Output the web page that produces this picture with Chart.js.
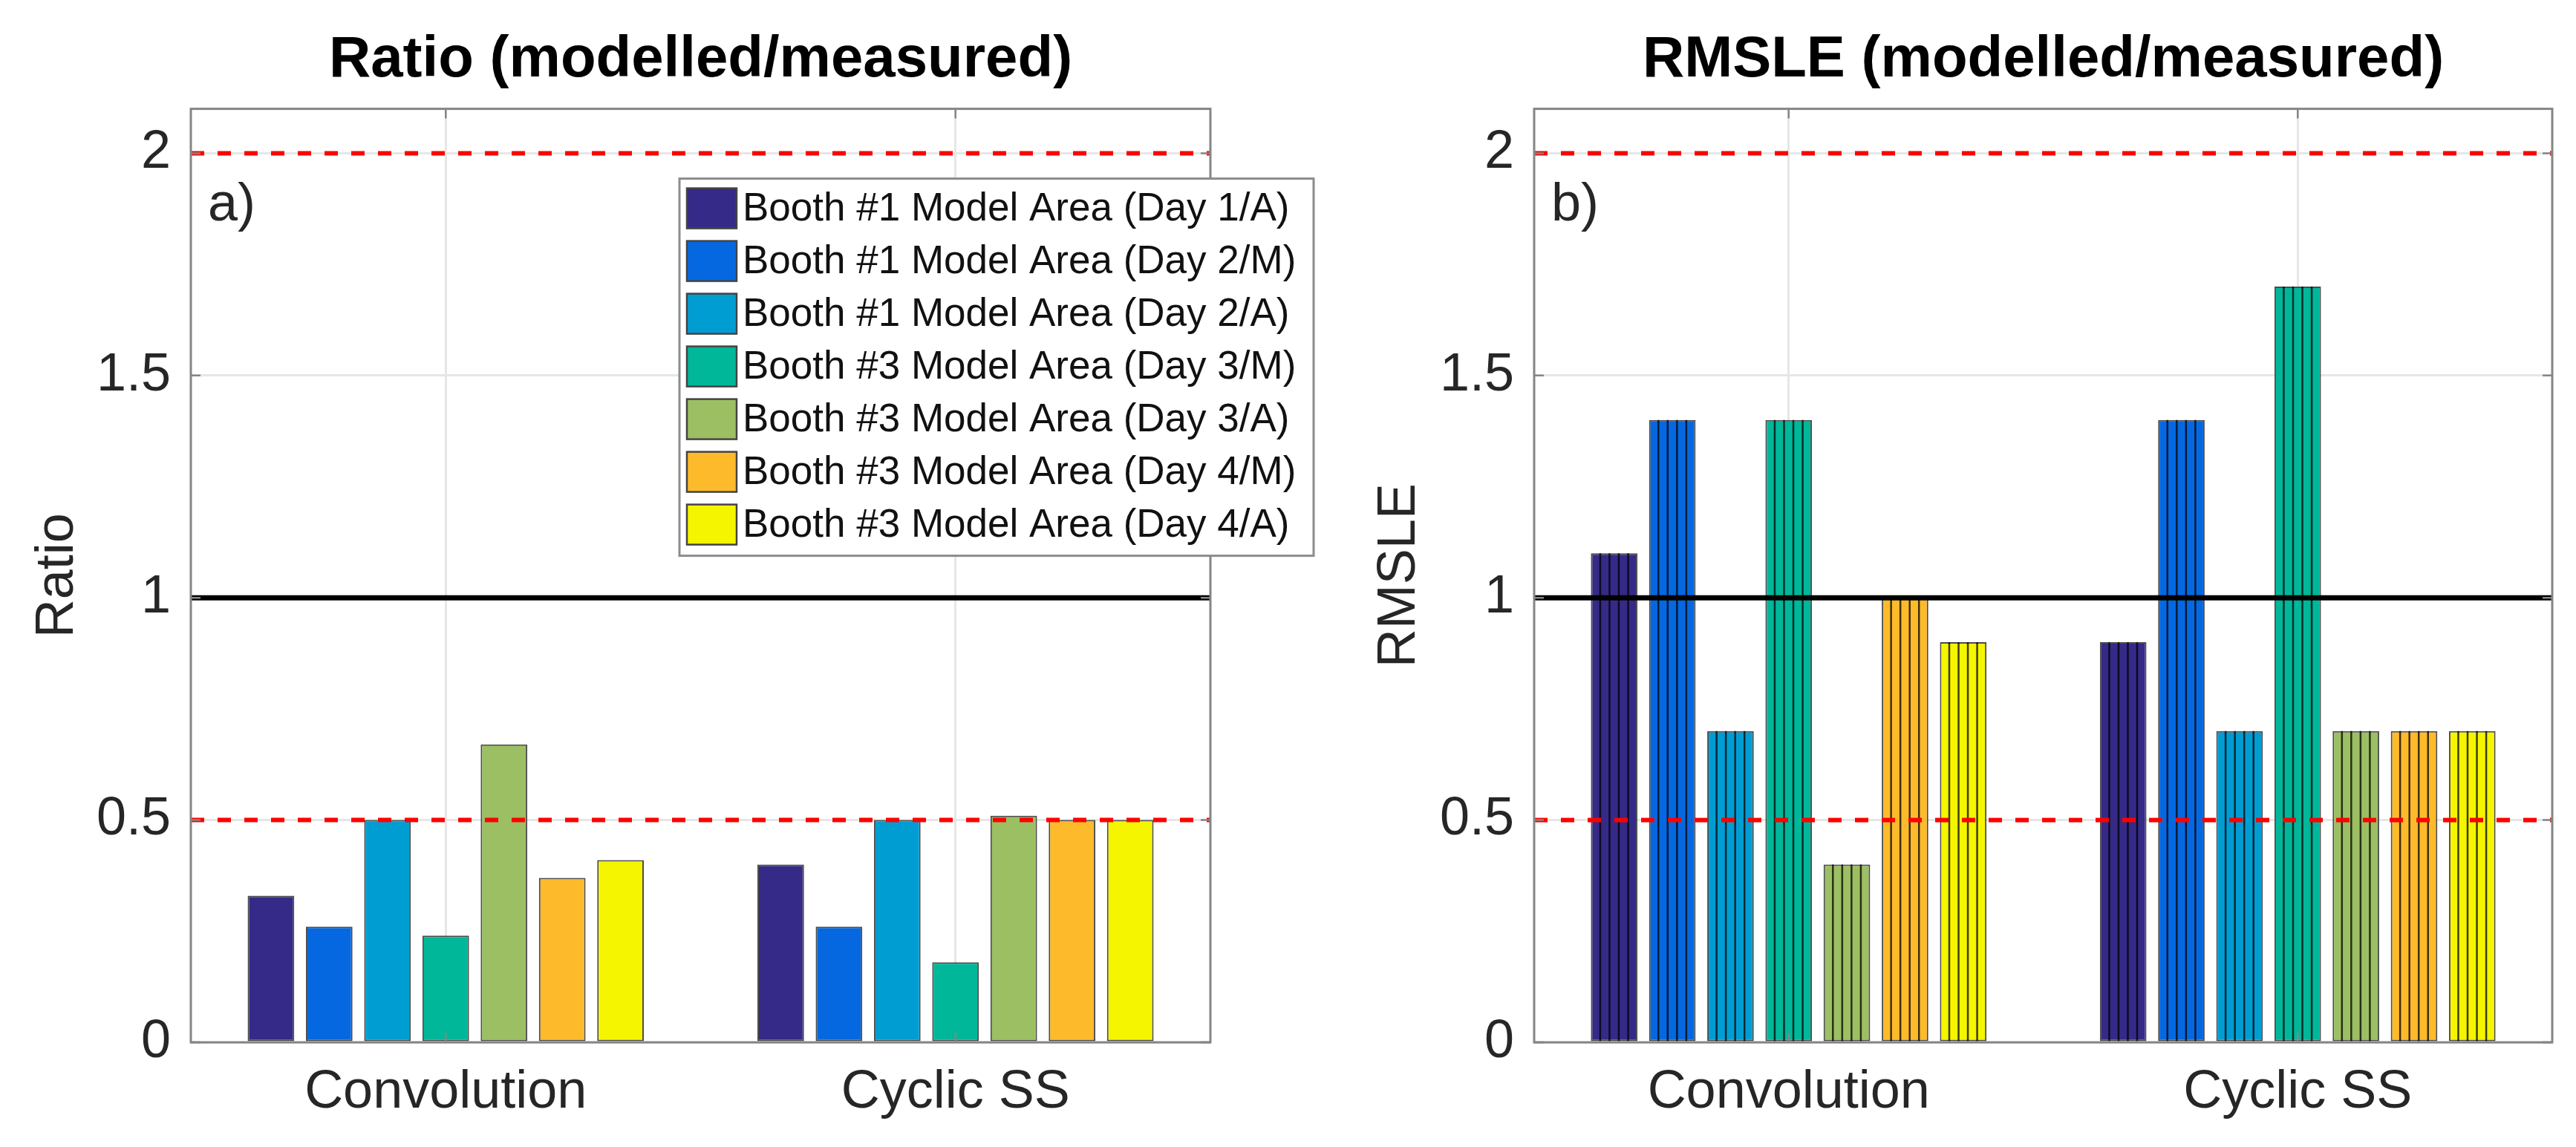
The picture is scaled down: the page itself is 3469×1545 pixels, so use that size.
<!DOCTYPE html>
<html>
<head>
<meta charset="utf-8">
<script src="https://cdn.jsdelivr.net/npm/chart.js@4.4.1/dist/chart.umd.min.js"></script>
<style>
	html, body { margin: 0; padding: 0; background: #fff; }
	body { width: 3469px; height: 1545px; position: relative; overflow: hidden; }
	canvas { position: absolute; top: 0; }
	#ratioChart { left: 0; }
	#rmsleChart { left: 1800px; }
</style>
</head>
<body>
<canvas id="ratioChart" width="1800" height="1545"></canvas>
<canvas id="rmsleChart" width="1669" height="1545"></canvas>
<script>
(() => {
	'use strict'

	// Data
	const categories = ['Convolution', 'Cyclic SS'];
	const seriesNames = [
		'Booth #1 Model Area (Day 1/A)',
		'Booth #1 Model Area (Day 2/M)',
		'Booth #1 Model Area (Day 2/A)',
		'Booth #3 Model Area (Day 3/M)',
		'Booth #3 Model Area (Day 3/A)',
		'Booth #3 Model Area (Day 4/M)',
		'Booth #3 Model Area (Day 4/A)'
	];
	const yTicks = [0, 0.5, 1, 1.5, 2];
	const ratioConvolution = [0.33, 0.26, 0.50, 0.24, 0.67, 0.37, 0.41];
	const ratioCyclic = [0.40, 0.26, 0.50, 0.18, 0.51, 0.50, 0.50];
	const rmsleConvolution = [1.1, 1.4, 0.7, 1.4, 0.4, 1.0, 0.9];
	const rmsleCyclic = [0.9, 1.4, 0.7, 1.7, 0.7, 0.7, 0.7];
	const refDashed = [0.5, 2];
	const refSolid = [1];

	const colors = ['#352a87', '#0568e0', '#009dd3', '#00b79a', '#9cbf63', '#fdbb2b', '#f5f500'];
	const FONT = "'Liberation Sans', Arial, Helvetica, sans-serif";
	const AXIS_GREY = '#858585';
	const TEXT = '#262626';

	const buildDatasets = (conv, cyc) => seriesNames.map((name, i) => ({
		label: name,
		data: [conv[i], cyc[i]],
		backgroundColor: colors[i],
		borderColor: 'rgba(45,45,45,0.85)',
		borderWidth: 2,
		borderSkipped: false,
		categoryPercentage: 0.8,
		barPercentage: 0.8
	}));

	// MATLAB-like decorations: hatching, reference lines, box, ticks, legend
	const axesDecor = {
		id: 'axesDecor',
		afterDatasetsDraw(chart, args, opts) {
			const {ctx, chartArea: a, scales: {y}} = chart;
			ctx.save();
			ctx.beginPath();
			ctx.rect(a.left, a.top, a.width, a.height);
			ctx.clip();

			if (opts.hatch) {
				ctx.strokeStyle = 'rgba(0,0,0,0.75)';
				ctx.lineWidth = 2.5;
				chart.data.datasets.forEach((ds, di) => {
					chart.getDatasetMeta(di).data.forEach((bar) => {
						const p = bar.getProps(['x', 'y', 'base', 'width'], true);
						for (let k = 1; k < 5; k++) {
							const lx = p.x - p.width / 2 + k * p.width / 5;
							ctx.beginPath();
							ctx.moveTo(lx, p.y);
							ctx.lineTo(lx, p.base);
							ctx.stroke();
						}
					});
				});
			}

			ctx.strokeStyle = '#ff0000';
			ctx.lineWidth = 6;
			ctx.setLineDash([18, 18]);
			refDashed.forEach((v) => {
				const py = y.getPixelForValue(v);
				ctx.beginPath();
				ctx.moveTo(a.left, py);
				ctx.lineTo(a.right, py);
				ctx.stroke();
			});
			ctx.setLineDash([]);
			ctx.strokeStyle = '#000';
			ctx.lineWidth = 7;
			refSolid.forEach((v) => {
				const py = y.getPixelForValue(v);
				ctx.beginPath();
				ctx.moveTo(a.left, py);
				ctx.lineTo(a.right, py);
				ctx.stroke();
			});
			ctx.restore();
		},
		afterDraw(chart, args, opts) {
			const {ctx, chartArea: a, scales: {x, y}} = chart;
			ctx.save();

			// box
			ctx.strokeStyle = AXIS_GREY;
			ctx.lineWidth = 3;
			ctx.strokeRect(a.left, a.top, a.width, a.height);

			// inward ticks
			ctx.lineWidth = 2.5;
			yTicks.forEach((v) => {
				const py = y.getPixelForValue(v);
				ctx.beginPath();
				ctx.moveTo(a.left, py); ctx.lineTo(a.left + 13, py);
				ctx.moveTo(a.right, py); ctx.lineTo(a.right - 13, py);
				ctx.stroke();
			});
			categories.forEach((c, i) => {
				const px = x.getPixelForValue(i);
				ctx.beginPath();
				ctx.moveTo(px, a.bottom); ctx.lineTo(px, a.bottom - 13);
				ctx.moveTo(px, a.top); ctx.lineTo(px, a.top + 13);
				ctx.stroke();
			});

			// panel letter
			ctx.fillStyle = TEXT;
			ctx.font = '72px ' + FONT;
			ctx.textBaseline = 'alphabetic';
			ctx.textAlign = 'left';
			ctx.fillText(opts.letter, a.left + 23, a.top + 150);

			if (opts.legend) {
				const lx = a.left + 658;
				const ly = a.top + 94;
				const lw = 854;
				const lh = 508;
				ctx.fillStyle = '#fff';
				ctx.fillRect(lx, ly, lw, lh);
				ctx.strokeStyle = '#8c8c8c';
				ctx.lineWidth = 3;
				ctx.strokeRect(lx, ly, lw, lh);
				ctx.font = '53px ' + FONT;
				ctx.textBaseline = 'middle';
				chart.data.datasets.forEach((ds, i) => {
					const sy = ly + 13 + i * 71;
					ctx.fillStyle = ds.backgroundColor;
					ctx.fillRect(lx + 10, sy, 67, 54);
					ctx.strokeStyle = '#444';
					ctx.lineWidth = 2.5;
					ctx.strokeRect(lx + 10, sy, 67, 54);
					ctx.fillStyle = '#111';
					ctx.fillText(ds.label, lx + 85, sy + 29);
				});
			}
			ctx.restore();
		}
	};

	const gridStyle = { color: '#e6e6e6', lineWidth: 3, drawTicks: false };

	const makeOptions = (title, yTitle, yWidth, yTitlePad, padRight, decor) => ({
		responsive: false,
		devicePixelRatio: 1,
		animation: false,
		layout: { padding: { left: 0, right: padRight, top: 0, bottom: 0 } },
		plugins: {
			legend: { display: false },
			tooltip: { enabled: false },
			title: {
				display: true,
				text: title,
				fullSize: false,
				color: '#000',
				font: { family: FONT, size: 78, weight: 'bold', lineHeight: 1.2 },
				padding: { top: 35, bottom: 18 }
			},
			axesDecor: decor
		},
		scales: {
			x: {
				grid: Object.assign({ offset: false }, gridStyle),
				border: { display: false },
				ticks: { color: TEXT, font: { family: FONT, size: 72 }, padding: 25 },
				afterFit: (s) => { s.height = 141; }
			},
			y: {
				min: 0,
				max: 2.1,
				grid: gridStyle,
				border: { display: false },
				ticks: {
					color: TEXT,
					font: { family: FONT, size: 72 },
					padding: 27,
					includeBounds: false,
					callback: (v) => String(v)
				},
				afterBuildTicks: (s) => { s.ticks = yTicks.map((v) => ({ value: v })); },
				title: {
					display: true,
					text: yTitle,
					color: TEXT,
					font: { family: FONT, size: 72 },
					padding: { top: yTitlePad, bottom: 0 }
				},
				afterFit: (s) => { s.width = yWidth; }
			}
		}
	});

	// eslint-disable-next-line no-unused-vars
	const ratioChart = new Chart(document.getElementById('ratioChart'), {
		type: 'bar',
		data: { labels: categories, datasets: buildDatasets(ratioConvolution, ratioCyclic) },
		options: makeOptions('Ratio (modelled/measured)', 'Ratio', 257, 35, 170,
			{ hatch: false, letter: 'a)', legend: true }),
		plugins: [axesDecor]
	});

	// eslint-disable-next-line no-unused-vars
	const rmsleChart = new Chart(document.getElementById('rmsleChart'), {
		type: 'bar',
		data: { labels: categories, datasets: buildDatasets(rmsleConvolution, rmsleCyclic) },
		options: makeOptions('RMSLE (modelled/measured)', 'RMSLE', 266, 42, 32,
			{ hatch: true, letter: 'b)', legend: false }),
		plugins: [axesDecor]
	});
})();
</script>
</body>
</html>
